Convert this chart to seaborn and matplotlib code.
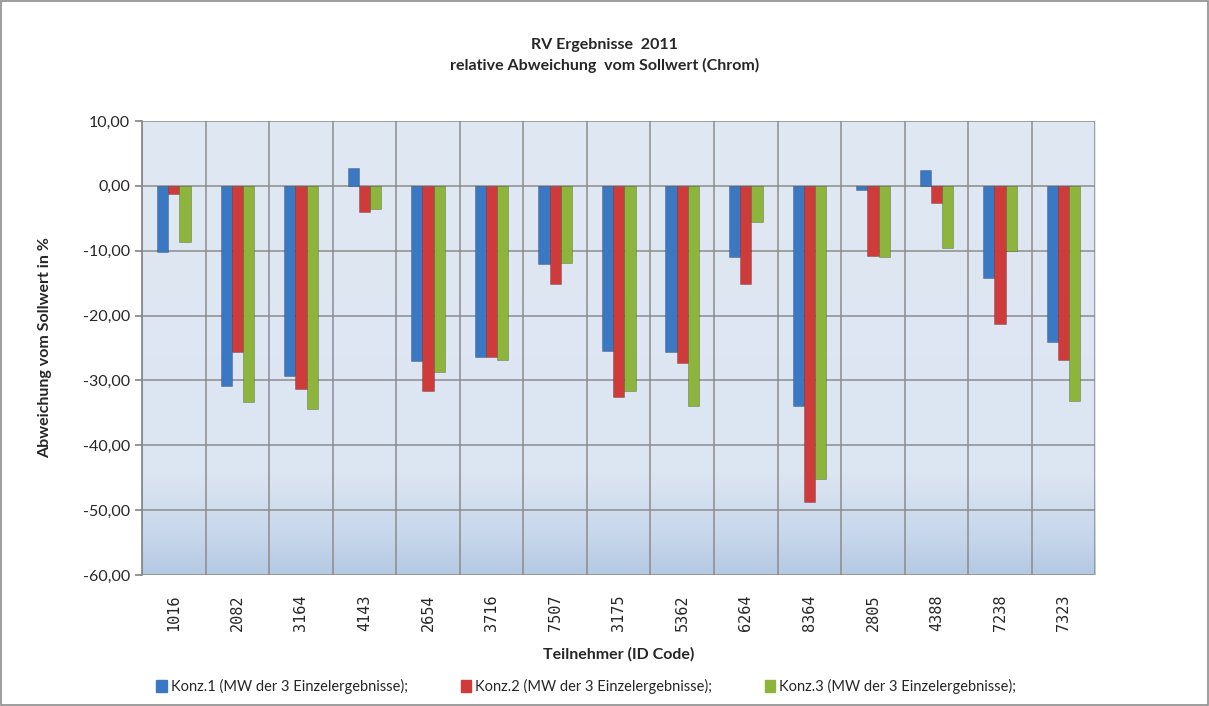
import numpy as np
import pandas as pd
import seaborn as sns
import matplotlib.pyplot as plt
from matplotlib.colors import LinearSegmentedColormap
from matplotlib.patches import Rectangle
from matplotlib.ticker import FuncFormatter, MultipleLocator

sns.set_theme(style="white")
plt.rcParams['font.family'] = ['Lato', 'DejaVu Sans']

# Daten
teilnehmer = ["1016", "2082", "3164", "4143", "2654", "3716", "7507", "3175",
              "5362", "6264", "8364", "2805", "4388", "7238", "7323"]
konz1 = [-10.2, -30.8, -29.3, 2.8, -27.0, -26.4, -12.0, -25.4,
         -25.6, -10.9, -33.9, -0.6, 2.4, -14.2, -24.0]
konz2 = [-1.2, -25.6, -31.3, -4.0, -31.6, -26.4, -15.1, -32.6,
         -27.3, -15.2, -48.8, -10.8, -2.7, -21.3, -26.8]
konz3 = [-8.6, -33.4, -34.4, -3.5, -28.7, -26.9, -11.9, -31.6,
         -33.9, -5.6, -45.2, -10.9, -9.6, -10.1, -33.1]
serien = ["Konz.1 (MW der 3 Einzelergebnisse);",
          "Konz.2 (MW der 3 Einzelergebnisse);",
          "Konz.3 (MW der 3 Einzelergebnisse);"]
farben = ["#3B78C3", "#CF3B3A", "#8DB53C"]

df = pd.DataFrame({"Teilnehmer": teilnehmer, serien[0]: konz1,
                   serien[1]: konz2, serien[2]: konz3})
df_long = df.melt(id_vars="Teilnehmer", var_name="Serie", value_name="Wert")

fig = plt.figure(figsize=(12.09, 7.06), dpi=100)
ax = fig.add_axes([0.1175, 0.1856, 0.7885, 0.643])

# Hintergrund mit Verlauf nach unten
cmap = LinearSegmentedColormap.from_list(
    "bg", [(0, "#B5C9E3"), (0.08, "#C6D6EB"), (0.22, "#DCE5F2"), (1, "#E0E8F3")])
grad = np.linspace(0, 1, 256).reshape(-1, 1)
ax.imshow(grad, aspect="auto", cmap=cmap, origin="lower",
          extent=[-0.5, 14.5, -60, 10], zorder=0)

sns.barplot(data=df_long, x="Teilnehmer", y="Wert", hue="Serie",
            palette=farben, width=0.53, saturation=1, ax=ax, zorder=3,
            edgecolor="none", legend=False)

# etwas Tiefe an den Balken
for p in ax.patches:
    p.set_edgecolor((0, 0, 0, 0.25))
    p.set_linewidth(0.6)

ax.set_xlim(-0.5, 14.5)
ax.set_ylim(-60, 10)
ax.yaxis.set_major_locator(MultipleLocator(10))
ax.yaxis.set_major_formatter(FuncFormatter(lambda v, _: f"{v:.2f}".replace(".", ",")))
ax.set_xticks(np.arange(-0.5, 15, 1), minor=True)
ax.grid(True, which="minor", axis="x", color="#8C8C8C", lw=1.1, zorder=1)
ax.grid(True, which="major", axis="y", color="#8C8C8C", lw=1.1, zorder=1)
ax.set_axisbelow(True)
ax.tick_params(axis="x", which="both", length=0, labelrotation=90, labelsize=11, pad=14)
ax.tick_params(axis="y", length=5, direction="out", color="#888888", labelsize=11.5, left=True)
for lbl in ax.get_xticklabels():
    lbl.set_family(["DejaVu Sans Mono", "DejaVu Sans"])
for s in ["top", "right", "bottom"]:
    ax.spines[s].set_visible(False)
ax.spines["left"].set_color("#888888")

ax.set_xlabel("Teilnehmer (ID Code)", fontsize=11.5, fontweight="bold", labelpad=12)
ax.set_ylabel("Abweichung vom Sollwert in %", fontsize=11.5, fontweight="bold", labelpad=22)
fig.text(0.5, 0.921, "RV Ergebnisse  2011\nrelative Abweichung  vom Sollwert (Chrom)",
         ha="center", va="center", fontsize=11.5, fontweight="bold", linespacing=1.5)

handles = [Rectangle((0, 0), 1, 1, color=c) for c in farben]
fig.legend(handles, serien, loc="center", bbox_to_anchor=(0.485, 0.027), ncol=3,
           frameon=False, fontsize=10.5, handlelength=0.7, handleheight=0.9,
           handletextpad=0.3, columnspacing=3.6)

fig.patches.append(Rectangle((0.001, 0.001), 0.998, 0.998, transform=fig.transFigure,
                             fill=False, edgecolor="#8C8C8C", lw=1.2))

fig.savefig("out.png", dpi=100)
